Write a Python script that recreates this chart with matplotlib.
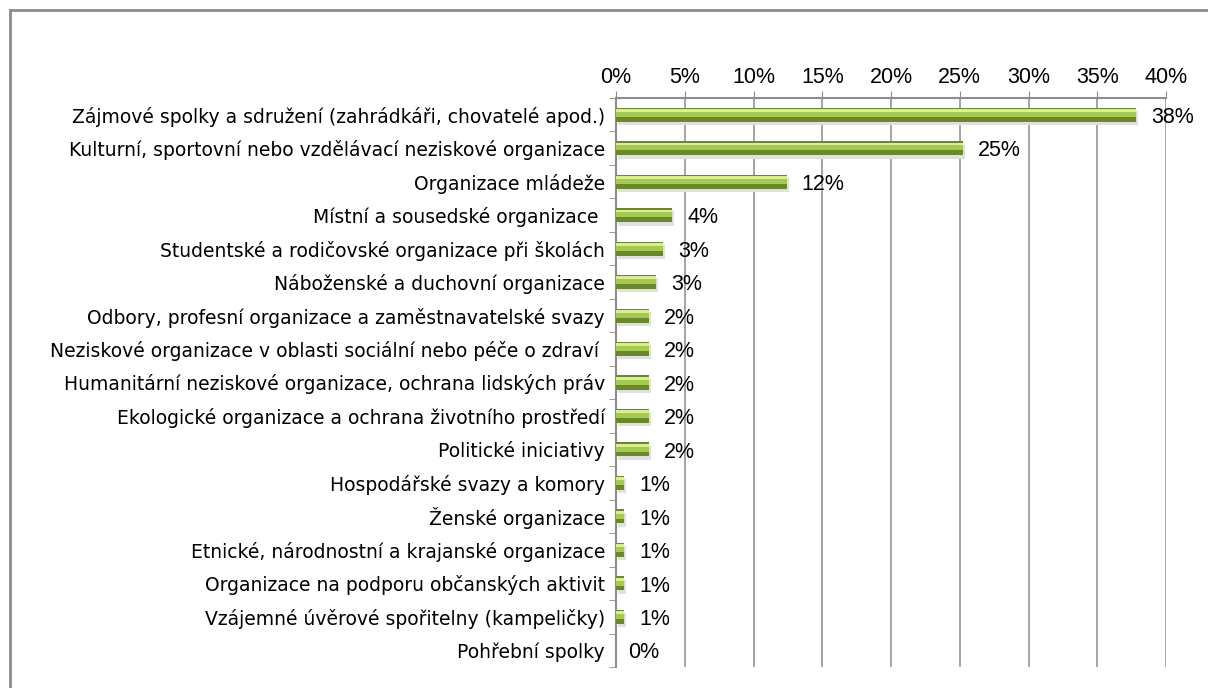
import matplotlib.pyplot as plt
from matplotlib.lines import Line2D
import numpy as np

categories = [
    "Zájmové spolky a sdružení (zahrádkáři, chovatelé apod.)",
    "Kulturní, sportovní nebo vzdělávací neziskové organizace",
    "Organizace mládeže",
    "Místní a sousedské organizace ",
    "Studentské a rodičovské organizace při školách",
    "Náboženské a duchovní organizace",
    "Odbory, profesní organizace a zaměstnavatelské svazy",
    "Neziskové organizace v oblasti sociální nebo péče o zdraví ",
    "Humanitární neziskové organizace, ochrana lidských práv",
    "Ekologické organizace a ochrana životního prostředí",
    "Politické iniciativy",
    "Hospodářské svazy a komory",
    "Ženské organizace",
    "Etnické, národnostní a krajanské organizace",
    "Organizace na podporu občanských aktivit",
    "Vzájemné úvěrové spořitelny (kampeličky)",
    "Pohřební spolky",
]
values = [37.8, 25.2, 12.4, 4.1, 3.4, 2.9, 2.4, 2.4, 2.4, 2.4, 2.4,
          0.6, 0.6, 0.6, 0.6, 0.6, 0.0]
value_labels = ["38%", "25%", "12%", "4%", "3%", "3%", "2%", "2%", "2%", "2%",
                "2%", "1%", "1%", "1%", "1%", "1%", "0%"]
x_ticks = [0, 5, 10, 15, 20, 25, 30, 35, 40]

fig = plt.figure(figsize=(12.08, 6.88), dpi=100)
ax = fig.add_axes([616 / 1208, 1 - 667 / 688, 550 / 1208, 569 / 688])

y = np.arange(len(categories))
h = 0.42

# shadow, dark base, light top half to fake the 3d look
ax.barh(y + 0.1, values, height=h, left=0.15, color='#e0e0e0', linewidth=0, zorder=2)
ax.barh(y, values, height=h, color='#6a872b', linewidth=0, zorder=3)
ax.barh(y - h * 0.12, values, height=h * 0.55, color='#a6c953', linewidth=0, zorder=4)
ax.barh(y - h * 0.3, values, height=h * 0.2, color='#d8ef8e', linewidth=0, zorder=5)

for yi, v, lab in zip(y, values, value_labels):
    ax.text(v + (1.1 if v > 0 else 0.9), yi + 0.08, lab, ha='left', va='center',
            fontsize=15.5, family='Liberation Sans', zorder=6)

ax.set_xlim(0, 40)
ax.set_ylim(len(categories) - 0.5, -0.5)
ax.xaxis.tick_top()
ax.set_xticks(x_ticks)
ax.set_xticklabels([f"{t}%" for t in x_ticks], fontsize=15.5, family='Liberation Sans')
ax.tick_params(axis='x', length=5, color='#8c8c8c', pad=2)
ax.grid(axis='x', color='#8c8c8c', linewidth=1.1, zorder=1)

ax.set_yticks(y)
ax.set_yticklabels(categories, fontsize=13.5, family='DejaVu Sans')
ax.set_yticks(np.arange(len(categories) + 1) - 0.5, minor=True)
ax.tick_params(axis='y', which='major', length=0, pad=8)
ax.tick_params(axis='y', which='minor', length=5, color='#8c8c8c')

for s in ['right', 'bottom']:
    ax.spines[s].set_visible(False)
for s in ['left', 'top']:
    ax.spines[s].set_color('#8c8c8c')
    ax.spines[s].set_linewidth(1.5)

# outer chart border (left and top only visible)
fx0, fy1 = 10 / 1208, 1 - 10 / 688
fig.add_artist(Line2D([fx0, fx0], [0, fy1], color='#8c8c8c', linewidth=2, transform=fig.transFigure))
fig.add_artist(Line2D([fx0, 1.0], [fy1, fy1], color='#8c8c8c', linewidth=2, transform=fig.transFigure))

fig.savefig('out.png', dpi=100)
